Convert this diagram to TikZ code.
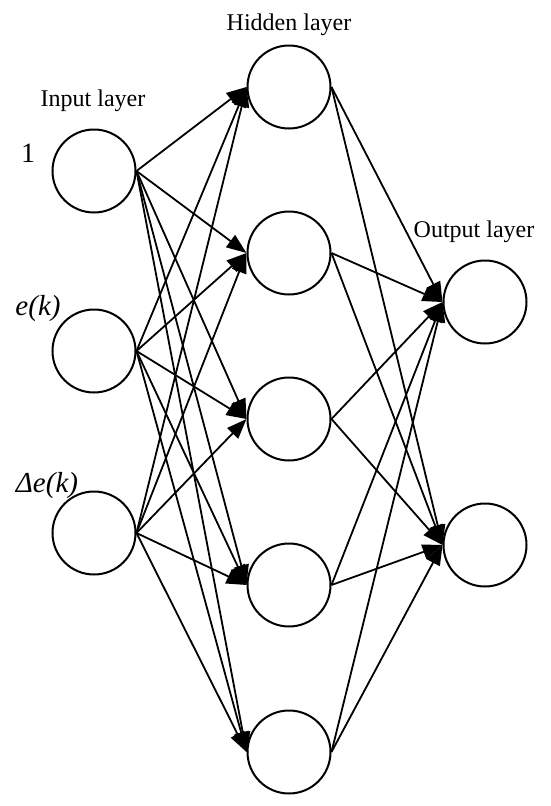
\documentclass[tikz,border=0pt]{standalone}
\usepackage{fontspec}
\setmainfont{Liberation Serif}
\usepackage{tikz}
\usetikzlibrary{arrows.meta}

\begin{document}
\begin{tikzpicture}[x=1pt,y=-1pt]
\useasboundingbox (0,0) rectangle (550,806);

\begin{scope}[every node/.style={circle,draw,line width=2pt,minimum size=83pt,inner sep=0pt}]
    \node (I1) at (94,171) {};
    \node (I2) at (94,351) {};
    \node (I3) at (94,533) {};

    \node (H1) at (289,87) {};
    \node (H2) at (289,253) {};
    \node (H3) at (289,419) {};
    \node (H4) at (289,585) {};
    \node (H5) at (289,752) {};

    \node (O1) at (485,302) {};
    \node (O2) at (485,545) {};
    \end{scope}

\begin{scope}[every node/.style={font=\fontsize{24}{28}\selectfont}]
    \node (LI) at (93,101) {Input layer};
    \node (LH) at (289,25) {Hidden layer};
    \node (LO) at (474,232) {Output layer};
    \node (X1) at (28,153) {\fontsize{28}{32}\selectfont 1};
    \node (X2) at (38,309) {\fontsize{29}{32}\selectfont\itshape e(k)};
    \node (X3) at (47,486) {\fontsize{29}{32}\selectfont\itshape Δe(k)};
    \end{scope}

\begin{scope}[>={Triangle[length=20pt,width=15pt]},
              every edge/.style={draw=black,line width=1.8pt}]
    \foreach \i in {1,2,3}
        \foreach \h in {1,...,5}
            \path [->] (I\i.east) edge (H\h.west);
    \foreach \h in {1,...,5}
        \foreach \o in {1,2}
            \path [->] (H\h.east) edge (O\o.west);
    \end{scope}

\end{tikzpicture}
\end{document}
